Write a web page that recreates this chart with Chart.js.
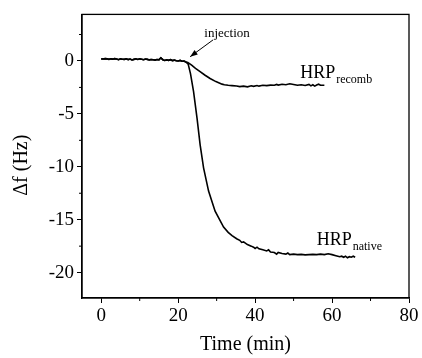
<!DOCTYPE html>
<html>
<head>
<meta charset="utf-8">
<script src="https://cdn.jsdelivr.net/npm/chart.js@4.4.1/dist/chart.umd.min.js"></script>
<style>
  body { margin: 0; background: #fff; }
</style>
</head>
<body>
<canvas id="qcm" width="422" height="358"></canvas>
<script>
// data (time in min, delta f in Hz)
// common baseline before injection
const baseTime = [0, 0.5, 1, 1.5, 2, 2.5, 3, 3.5, 4, 4.5, 5, 5.5, 6, 6.5, 7, 7.5, 8, 8.5, 9, 9.5, 10, 10.5,
  11, 11.5, 12, 12.5, 13, 13.5, 14, 14.5, 15, 15.5, 16, 16.5, 17, 17.5, 18, 18.5, 19, 19.5, 20, 20.5, 21, 21.5, 22];
const baseDf = [0.2, 0.18, 0.22, 0.2, 0.15, 0.2, 0.17, 0.22, 0.18, 0.12, 0.2, 0.16, 0.15, 0.2, 0.13, 0.18, 0.1, 0.15,
  0.2, 0.14, 0.2, 0.16, 0.12, 0.18, 0.15, 0.1, 0.14, 0.12, 0.08, 0.14, 0.1, 0.3, 0.12, 0.05, 0.1, 0.06, 0.12, 0.04,
  0.08, 0.02, 0.0, 0.05, -0.02, 0.0, -0.1];

// native HRP after injection
const nativeTime = [22.6, 23.2, 24, 24.9, 25.7, 26.6, 27.9, 29.6, 31.8, 33, 34, 35.2, 36, 36.5, 37, 38, 39, 39.6, 40,
  40.5, 41, 42, 43, 43.5, 44, 45, 45.6, 46, 47, 48, 48.5, 49, 50, 51, 52, 53, 54, 55, 56, 57, 58, 59, 60, 61, 62,
  62.5, 63, 63.5, 64, 64.5, 65, 65.5, 66];
const nativeDf = [-0.3, -1.2, -2.9, -5.4, -7.9, -10.1, -12.3, -14.2, -15.7, -16.2, -16.5, -16.8, -16.95, -17.15, -17.1,
  -17.35, -17.5, -17.6, -17.72, -17.6, -17.75, -17.85, -17.95, -17.85, -18.05, -18.1, -18.25, -18.1, -18.2, -18.25,
  -18.15, -18.3, -18.25, -18.3, -18.28, -18.32, -18.3, -18.28, -18.3, -18.25, -18.3, -18.22, -18.3, -18.4, -18.5,
  -18.45, -18.55, -18.45, -18.6, -18.5, -18.55, -18.45, -18.55];

// recombinant HRP after injection
const recombTime = [22.5, 23.5, 24.5, 25.7, 27, 28.3, 29.8, 31.4, 32, 33, 34, 35.2, 36, 37, 38, 39, 39.6, 40.5, 41,
  42, 43, 44, 45, 45.6, 46, 47, 48, 49, 50, 51, 52, 53, 54, 54.5, 55, 55.5, 56, 56.5, 57, 58];
const recombDf = [-0.15, -0.4, -0.7, -1.0, -1.35, -1.66, -1.95, -2.19, -2.25, -2.3, -2.33, -2.37, -2.42, -2.38, -2.45,
  -2.35, -2.4, -2.32, -2.38, -2.3, -2.33, -2.28, -2.3, -2.22, -2.28, -2.2, -2.25, -2.15, -2.22, -2.3, -2.25, -2.32,
  -2.22, -2.35, -2.25, -2.38, -2.28, -2.2, -2.3, -2.3];

const xTicks = [0, 20, 40, 60, 80];
const xMinor = [10, 30, 50, 70];
const yTicks = [0, -5, -10, -15, -20];
const yMinor = [2.5, -2.5, -7.5, -12.5, -17.5];

const serif = '"Liberation Serif", "Times New Roman", serif';

const toXY = (ts, vs) => ts.map((t, i) => ({ x: t, y: vs[i] }));

// frame, minor ticks, y title and the text labels of the figure
const figureExtras = {
  id: "figureExtras",
  afterDraw: (chart) => {
    const ctx = chart.ctx;
    const a = chart.chartArea;
    const sx = chart.scales.x;
    const sy = chart.scales.y;
    ctx.save();
    ctx.strokeStyle = "#000";
    ctx.fillStyle = "#000";
    ctx.lineWidth = 1.3;
    ctx.strokeRect(a.left, a.top, a.right - a.left, a.bottom - a.top);

    ctx.lineWidth = 1;
    xMinor.forEach((v) => {
      const px = sx.getPixelForValue(v);
      ctx.beginPath();
      ctx.moveTo(px, a.bottom);
      ctx.lineTo(px, a.bottom + 3);
      ctx.stroke();
    });
    yMinor.forEach((v) => {
      const py = sy.getPixelForValue(v);
      ctx.beginPath();
      ctx.moveTo(a.left, py);
      ctx.lineTo(a.left - 3, py);
      ctx.stroke();
    });

    // y axis title, sits a bit below the middle like the original
    ctx.save();
    ctx.translate(22, (a.top + a.bottom) / 2 + 9);
    ctx.rotate(-Math.PI / 2);
    ctx.font = "20px " + serif;
    ctx.textAlign = "center";
    ctx.textBaseline = "middle";
    ctx.fillText("Δf (Hz)", 0, 0);
    ctx.restore();

    // injection label + arrow
    ctx.font = "13px " + serif;
    ctx.textAlign = "center";
    ctx.textBaseline = "middle";
    ctx.fillText("injection", sx.getPixelForValue(32.7), sy.getPixelForValue(2.6));

    const x0 = sx.getPixelForValue(29.1), y0 = sy.getPixelForValue(2.0);
    const x1 = sx.getPixelForValue(23.1), y1 = sy.getPixelForValue(0.4);
    ctx.beginPath();
    ctx.moveTo(x0, y0);
    ctx.lineTo(x1, y1);
    ctx.stroke();
    const ang = Math.atan2(y1 - y0, x1 - x0);
    ctx.beginPath();
    ctx.moveTo(x1, y1);
    ctx.lineTo(x1 - 8 * Math.cos(ang - 0.35), y1 - 8 * Math.sin(ang - 0.35));
    ctx.lineTo(x1 - 8 * Math.cos(ang + 0.35), y1 - 8 * Math.sin(ang + 0.35));
    ctx.closePath();
    ctx.fill();

    // series names with subscripts
    const label = (t, v, main, sub) => {
      const px = sx.getPixelForValue(t);
      const py = sy.getPixelForValue(v);
      ctx.textAlign = "left";
      ctx.textBaseline = "alphabetic";
      ctx.font = "18px " + serif;
      ctx.fillText(main, px, py + 6);
      const w = ctx.measureText(main).width;
      ctx.font = "12px " + serif;
      ctx.fillText(sub, px + w + 1, py + 11);
    };
    label(51.7, -1.0, "HRP", "recomb");
    label(56, -16.8, "HRP", "native");
    ctx.restore();
  },
};

new Chart(document.getElementById("qcm"), {
  type: "line",
  data: {
    datasets: [
      {
        label: "HRP native",
        data: toXY(baseTime.concat(nativeTime), baseDf.concat(nativeDf)),
        borderColor: "#000",
        borderWidth: 1.6,
        pointRadius: 0,
        tension: 0,
      },
      {
        label: "HRP recomb",
        data: toXY(baseTime.concat(recombTime), baseDf.concat(recombDf)),
        borderColor: "#000",
        borderWidth: 1.6,
        pointRadius: 0,
        tension: 0,
      },
    ],
  },
  options: {
    responsive: false,
    animation: false,
    layout: { padding: { top: 12, right: 13, left: 0, bottom: 0 } },
    plugins: {
      legend: { display: false },
      tooltip: { enabled: false },
    },
    scales: {
      x: {
        type: "linear",
        min: -5,
        max: 80,
        afterBuildTicks: (scale) => {
          scale.ticks = xTicks.map((v) => ({ value: v }));
        },
        afterFit: (scale) => {
          scale.height = 60;
        },
        grid: { drawOnChartArea: false, tickLength: 5, color: "#000", tickWidth: 1 },
        border: { color: "#000", width: 1.3 },
        ticks: { color: "#000", font: { family: serif, size: 19 }, padding: 2, maxRotation: 0 },
        title: {
          display: true,
          text: "Time (min)",
          color: "#000",
          font: { family: serif, size: 20 },
          padding: { top: 0, bottom: 1 },
        },
      },
      y: {
        min: -22.4,
        max: 4.4,
        afterBuildTicks: (scale) => {
          scale.ticks = yTicks.map((v) => ({ value: v }));
        },
        afterFit: (scale) => {
          scale.width = 82;
        },
        grid: { drawOnChartArea: false, tickLength: 5, color: "#000", tickWidth: 1 },
        border: { color: "#000", width: 1.3 },
        ticks: { color: "#000", font: { family: serif, size: 19 }, padding: 3 },
      },
    },
  },
  plugins: [figureExtras],
});
</script>
</body>
</html>
